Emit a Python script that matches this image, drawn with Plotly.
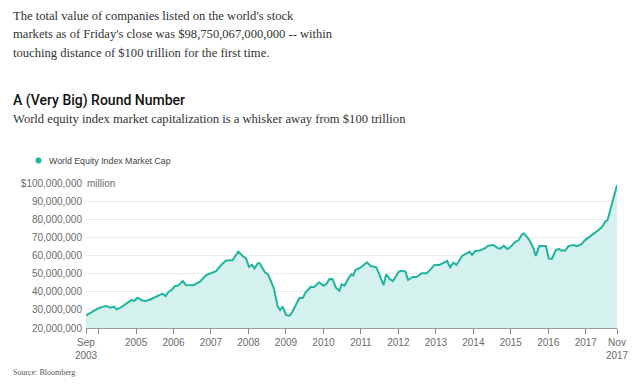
import plotly.graph_objects as go

# ---- data (values in trillions of US$) ----
dates = [
    "2003-09-01", "2003-10-15", "2003-12-01", "2004-01-01", "2004-02-15", "2004-03-15",
    "2004-04-15", "2004-05-01", "2004-06-01", "2004-06-25", "2004-08-01", "2004-09-10",
    "2004-10-15", "2004-11-15", "2004-12-15", "2005-01-15", "2005-03-01", "2005-04-01",
    "2005-05-15", "2005-06-15", "2005-08-15", "2005-09-15", "2005-10-15", "2005-11-15",
    "2005-12-15", "2006-01-15", "2006-02-15", "2006-04-01", "2006-05-01", "2006-06-15",
    "2006-07-15", "2006-08-15", "2006-09-15", "2006-11-15", "2007-01-01", "2007-02-20",
    "2007-04-10", "2007-05-25", "2007-07-30", "2007-09-25", "2007-11-05", "2007-12-10",
    "2008-01-05", "2008-02-05", "2008-03-01", "2008-04-01", "2008-04-20", "2008-06-10",
    "2008-07-10", "2008-09-05", "2008-10-10", "2008-11-05", "2008-11-30", "2009-01-01",
    "2009-02-05", "2009-03-05", "2009-05-10", "2009-06-15", "2009-07-15", "2009-09-01",
    "2009-10-01", "2009-11-20", "2009-12-30", "2010-01-25", "2010-03-01", "2010-04-01",
    "2010-05-01", "2010-06-05", "2010-06-28", "2010-07-25", "2010-09-10", "2010-10-01",
    "2010-10-20", "2010-11-10", "2011-01-01", "2011-01-25", "2011-03-01", "2011-04-05",
    "2011-06-01", "2011-06-25", "2011-08-10", "2011-09-05", "2011-10-10", "2011-11-10",
    "2012-01-05", "2012-02-05", "2012-03-10", "2012-04-05", "2012-05-15", "2012-07-01",
    "2012-08-15", "2012-10-05", "2012-11-05", "2012-12-20", "2013-02-05", "2013-04-20",
    "2013-05-20", "2013-06-20", "2013-07-20", "2013-09-15", "2013-10-30", "2013-11-25",
    "2013-12-20", "2014-01-20", "2014-03-05", "2014-04-25", "2014-05-25", "2014-07-15",
    "2014-08-30", "2014-09-20", "2014-10-25", "2014-11-25", "2014-12-15", "2015-02-15",
    "2015-03-20", "2015-04-20", "2015-05-10", "2015-07-01", "2015-08-10", "2015-09-01",
    "2015-10-05", "2015-12-10", "2016-01-05", "2016-02-05", "2016-03-15", "2016-04-15",
    "2016-05-10", "2016-06-15", "2016-07-15", "2016-09-05", "2016-10-05", "2016-11-20",
    "2016-12-25", "2017-02-10", "2017-04-01", "2017-06-05", "2017-07-10", "2017-08-01",
    "2017-11-01",
]
cap_trillion = [
    27.0, 28.5, 30.0, 30.9, 31.8, 32.1,
    31.5, 31.2, 31.8, 30.3, 31.2, 32.7,
    33.8, 35.4, 35.0, 36.7, 35.2, 34.9,
    35.6, 36.4, 38.2, 39.0, 37.6, 40.0,
    41.0, 43.2, 43.4, 45.9, 43.7, 43.4,
    43.6, 44.6, 45.6, 49.2, 50.2, 51.4,
    54.8, 57.1, 57.5, 62.1, 59.7, 58.4,
    53.8, 54.8, 52.9, 55.7, 55.7, 50.7,
    49.6, 41.9, 32.1, 29.9, 31.8, 27.2,
    26.8, 29.0, 36.4, 36.7, 40.0, 42.8,
    42.5, 45.2, 43.4, 44.0, 47.0, 46.9,
    42.4, 40.6, 44.1, 43.4, 48.3, 49.6,
    49.0, 52.0, 53.5, 54.4, 56.2, 54.2,
    53.5, 50.2, 43.7, 49.6, 46.9, 45.9,
    51.1, 51.6, 51.1, 46.5, 48.0, 48.3,
    50.2, 50.2, 52.0, 54.8, 54.8, 57.0,
    53.5, 56.0, 54.8, 59.9, 61.2, 62.1,
    60.3, 62.5, 62.7, 64.0, 65.4, 65.8,
    64.0, 63.8, 65.4, 63.6, 64.0, 67.6,
    68.5, 71.7, 72.2, 68.5, 64.0, 59.7,
    65.2, 65.2, 58.4, 58.1, 63.0, 63.6,
    62.7, 62.7, 65.2, 65.8, 65.2, 66.3,
    68.5, 70.4, 72.6, 75.6, 78.7, 79.6,
    98.75,
]
cap_million = [v * 1_000_000 for v in cap_trillion]

x_tickvals = ["2003-09-01", "2004-01-01", "2005-01-01", "2006-01-01", "2007-01-01",
              "2008-01-01", "2009-01-01", "2010-01-01", "2011-01-01", "2012-01-01",
              "2013-01-01", "2014-01-01", "2015-01-01", "2016-01-01", "2017-01-01",
              "2017-11-01"]
x_ticktext = ["Sep<br>2003", "", "2005", "2006", "2007", "2008", "2009", "2010", "2011",
              "2012", "2013", "2014", "2015", "2016", "2017", "Nov<br>2017"]
y_tickvals = [20e6, 30e6, 40e6, 50e6, 60e6, 70e6, 80e6, 90e6, 100e6]
y_ticktext = ["20,000,000", "30,000,000", "40,000,000", "50,000,000", "60,000,000",
              "70,000,000", "80,000,000", "90,000,000", "$100,000,000"]

series_name = "World Equity Index Market Cap"
intro_lines = [
    "The total value of companies listed on the world's stock",
    "markets as of Friday's close was $98,750,067,000,000 -- within",
    "touching distance of $100 trillion for the first time.",
]
title = "A (Very Big) Round Number"
subtitle = "World equity index market capitalization is a whisker away from $100 trillion"
source = "Source: Bloomberg"

# ---- layout geometry (window pixels); the page body has an 8px margin ----
OFF = 8
WIN_W, WIN_H = 640, 389
W, H = WIN_W - OFF, WIN_H - OFF
L, R, T, B = 86, 617, 183, 328   # plot area in window pixels

def px(x):
    return (x - L) / (R - L)

def py(y):
    return (B - y) / (B - T)

LINE = "#1fb59e"
FILL = "#d5f1ed"
SERIF = "Liberation Serif"
SANS = "Liberation Sans"

fig = go.Figure()
fig.add_trace(go.Scatter(
    x=dates, y=cap_million, mode="lines", fill="tozeroy",
    line=dict(color=LINE, width=2), fillcolor=FILL, name=series_name,
    showlegend=False,
))

ann = []
for txt, yc in zip(intro_lines, [16, 34.5, 53]):
    ann.append(dict(text=txt, x=px(11), y=py(yc), xanchor="left", yanchor="middle",
                    font=dict(family=SERIF, size=12.6, color="#333333")))
ann.append(dict(text=title, x=px(11), y=py(100), xanchor="left", yanchor="middle",
                font=dict(family="Roboto", size=14, color="#111111", weight=500)))
ann.append(dict(text=subtitle, x=px(11), y=py(119.5), xanchor="left", yanchor="middle",
                font=dict(family=SERIF, size=12.6, color="#333333")))
ann.append(dict(text=series_name, x=px(47), y=py(160.5), xanchor="left", yanchor="middle",
                font=dict(family=SANS, size=8.8, color="#444444")))
ann.append(dict(text="million", x=0, y=100e6, yref="y", xanchor="left", yanchor="middle",
                xshift=-2, bgcolor="white", borderpad=2,
                font=dict(family=SANS, size=10, color="#6b6b6b")))
ann.append(dict(text=source, x=px(11), y=py(372.5), xanchor="left", yanchor="middle",
                font=dict(family=SERIF, size=8, color="#555555")))
for a in ann:
    a.setdefault("xref", "paper")
    a.setdefault("yref", "paper")
    a["showarrow"] = False

shapes = [
    dict(type="circle", xref="paper", yref="paper",
         x0=px(35.5), x1=px(41.5), y0=py(157.5), y1=py(163.5),
         fillcolor=LINE, line=dict(width=0)),
]

fig.update_layout(
    width=W, height=H,
    margin=dict(l=L - OFF, r=WIN_W - R, t=T - OFF, b=WIN_H - B, pad=0),
    paper_bgcolor="white", plot_bgcolor="white",
    annotations=ann, shapes=shapes, showlegend=False,
    xaxis=dict(
        type="date", range=["2003-09-01", "2017-11-01"],
        tickmode="array", tickvals=x_tickvals, ticktext=x_ticktext,
        ticks="outside", ticklen=5, tickcolor="#888888", tickwidth=1,
        showgrid=False, showline=True, linecolor="#999999", linewidth=1,
        zeroline=False,
        tickfont=dict(family=SANS, size=10, color="#6b6b6b"),
    ),
    yaxis=dict(
        range=[20e6, 100e6], tickmode="array", tickvals=y_tickvals, ticktext=y_ticktext,
        showgrid=True, gridcolor="#ececec", gridwidth=1, zeroline=False,
        showline=False, ticks="", ticklabelstandoff=3,
        tickfont=dict(family=SANS, size=10, color="#6b6b6b"),
    ),
)

fig.write_html("out.html")
